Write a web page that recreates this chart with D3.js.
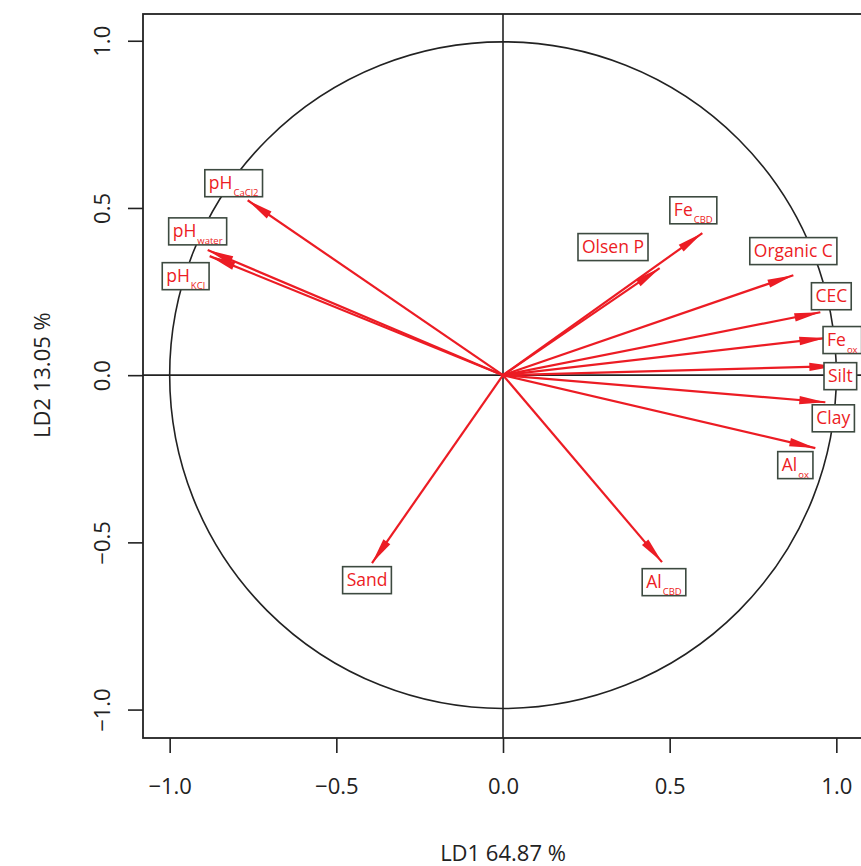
<!DOCTYPE html>
<html>
<head>
<meta charset="utf-8">
<script src="https://cdn.jsdelivr.net/npm/d3@7"></script>
<style>
  body { margin: 0; background: #fff; }
  svg { display: block; font-family: "Open Sans", sans-serif; }
</style>
</head>
<body>
<div id="chart"></div>
<script>
// variable names (main part + subscript)
const varMain = ["pH", "pH", "pH", "Fe", "Olsen P", "Organic C", "CEC", "Fe", "Silt", "Clay", "Al", "Sand", "Al"];
const varSub = ["CaCl2", "water", "KCl", "CBD", "", "", "", "ox", "", "", "ox", "", "CBD"];

// arrow tips (loadings on LD1 / LD2)
const ld1 = [-0.766, -0.886, -0.880, 0.598, 0.470, 0.871, 0.952, 0.967, 0.997, 0.967, 0.937, -0.393, 0.477];
const ld2 = [0.523, 0.374, 0.356, 0.425, 0.320, 0.299, 0.188, 0.111, 0.027, -0.081, -0.218, -0.562, -0.559];

// label centres in the same units
const labX = [-0.808, -0.916, -0.952, 0.571, 0.330, 0.871, 0.985, 1.018, 1.012, 0.991, 0.877, -0.408, 0.483];
const labY = [0.574, 0.430, 0.296, 0.493, 0.383, 0.371, 0.236, 0.105, -0.003, -0.129, -0.269, -0.613, -0.619];

const ticks = [-1.0, -0.5, 0.0, 0.5, 1.0];
const xTitle = "LD1 64.87 %";
const yTitle = "LD2 13.05 %";

const W = 861, H = 866;
const margin = { top: 14, left: 143, bottom: 128, right: -2 };
const width = W - margin.left - margin.right,
  height = H - margin.top - margin.bottom;

const svg = d3.select("#chart")
  .append("svg")
  .attr("width", W)
  .attr("height", H);

const g = svg.append("g")
  .attr("transform", `translate(${margin.left}, ${margin.top})`);

const x = d3.scaleLinear().domain([-1.08, 1.08]).range([0, width]);
const y = d3.scaleLinear().domain([-1.085, 1.08]).range([height, 0]);

// x axis
const xAxis = g.append("g")
  .attr("transform", `translate(0, ${height})`)
  .call(d3.axisBottom(x).tickValues(ticks).tickSize(15).tickPadding(25)
    .tickFormat(d3.format(".1f")));
xAxis.select(".domain").remove();
xAxis.selectAll("line").attr("stroke", "#222").attr("stroke-width", 1.6);
xAxis.selectAll("text").style("font-size", "22px").attr("fill", "#222")
  .style("font-family", "Open Sans");

// y axis, labels rotated like R's las = 0
const yAxis = g.append("g")
  .call(d3.axisLeft(y).tickValues(ticks).tickSize(15).tickFormat(d3.format(".1f")));
yAxis.select(".domain").remove();
yAxis.selectAll("line").attr("stroke", "#222").attr("stroke-width", 1.6);
yAxis.selectAll("text")
  .style("font-size", "22px").attr("fill", "#222")
  .style("font-family", "Open Sans")
  .attr("x", null).attr("dy", null)
  .attr("text-anchor", "middle")
  .attr("transform", "translate(-41, 0) rotate(-90)")
  .attr("dy", "0.35em");

// axis titles
svg.append("text")
  .attr("x", margin.left + x(0))
  .attr("y", 861)
  .attr("text-anchor", "middle")
  .style("font-size", "22px")
  .attr("fill", "#222")
  .text(xTitle);

svg.append("text")
  .attr("transform", `translate(50, ${margin.top + y(0)}) rotate(-90)`)
  .attr("text-anchor", "middle")
  .style("font-size", "22px")
  .attr("fill", "#222")
  .text(yTitle);

// unit circle
g.append("circle")
  .attr("cx", x(0)).attr("cy", y(0))
  .attr("r", x(1) - x(0))
  .attr("fill", "none")
  .attr("stroke", "#222")
  .attr("stroke-width", 1.6);

// zero lines
g.append("line")
  .attr("x1", x(0)).attr("x2", x(0))
  .attr("y1", 0).attr("y2", height)
  .attr("stroke", "#222").attr("stroke-width", 1.6);
g.append("line")
  .attr("x1", 0).attr("x2", width)
  .attr("y1", y(0)).attr("y2", y(0))
  .attr("stroke", "#222").attr("stroke-width", 1.6);

// arrows
const red = "#ec1c24";
const idx = d3.range(ld1.length);
const arrows = g.selectAll(".arrow").data(idx).join("g").attr("class", "arrow");

arrows.append("line")
  .attr("x1", x(0)).attr("y1", y(0))
  .attr("x2", (i) => x(ld1[i]))
  .attr("y2", (i) => y(ld2[i]))
  .attr("stroke", red)
  .attr("stroke-width", 2.2);

// narrow arrow heads
arrows.append("path")
  .attr("fill", red)
  .attr("d", function (i) {
    const tx = x(ld1[i]), ty = y(ld2[i]);
    const a = Math.atan2(ty - y(0), tx - x(0));
    const len = 26, hw = 4.2;
    const bx = tx - len * Math.cos(a), by = ty - len * Math.sin(a);
    const px = -Math.sin(a) * hw, py = Math.cos(a) * hw;
    return `M${tx},${ty}L${bx + px},${by + py}L${bx - px},${by - py}Z`;
  });

// boxed labels
const labels = g.selectAll(".lab").data(idx).join("g").attr("class", "lab")
  .attr("transform", (i) => `translate(${x(labX[i])}, ${y(labY[i])})`);

const rects = labels.append("rect")
  .attr("fill", "#fff")
  .attr("stroke", "#3d4a40")
  .attr("stroke-width", 1.6);

const texts = labels.append("text")
  .attr("fill", red)
  .style("font-size", "17.5px")
  .attr("dy", "0.35em");

texts.append("tspan").text((i) => varMain[i]);
texts.append("tspan")
  .style("font-size", "9.5px")
  .attr("dy", "7")
  .attr("dx", "1")
  .text((i) => varSub[i]);

texts.each(function () {
  const bb = this.getBBox();
  d3.select(this).attr("x", -bb.width / 2);
});

labels.each(function () {
  const t = d3.select(this).select("text").node();
  const bb = t.getBBox();
  d3.select(this).select("rect")
    .attr("x", bb.x - 4)
    .attr("y", -13.5)
    .attr("width", bb.width + 8)
    .attr("height", 27);
});

// plot frame
g.append("rect")
  .attr("x", 0).attr("y", 0)
  .attr("width", width).attr("height", height)
  .attr("fill", "none")
  .attr("stroke", "#222")
  .attr("stroke-width", 1.8);
</script>
</body>
</html>
